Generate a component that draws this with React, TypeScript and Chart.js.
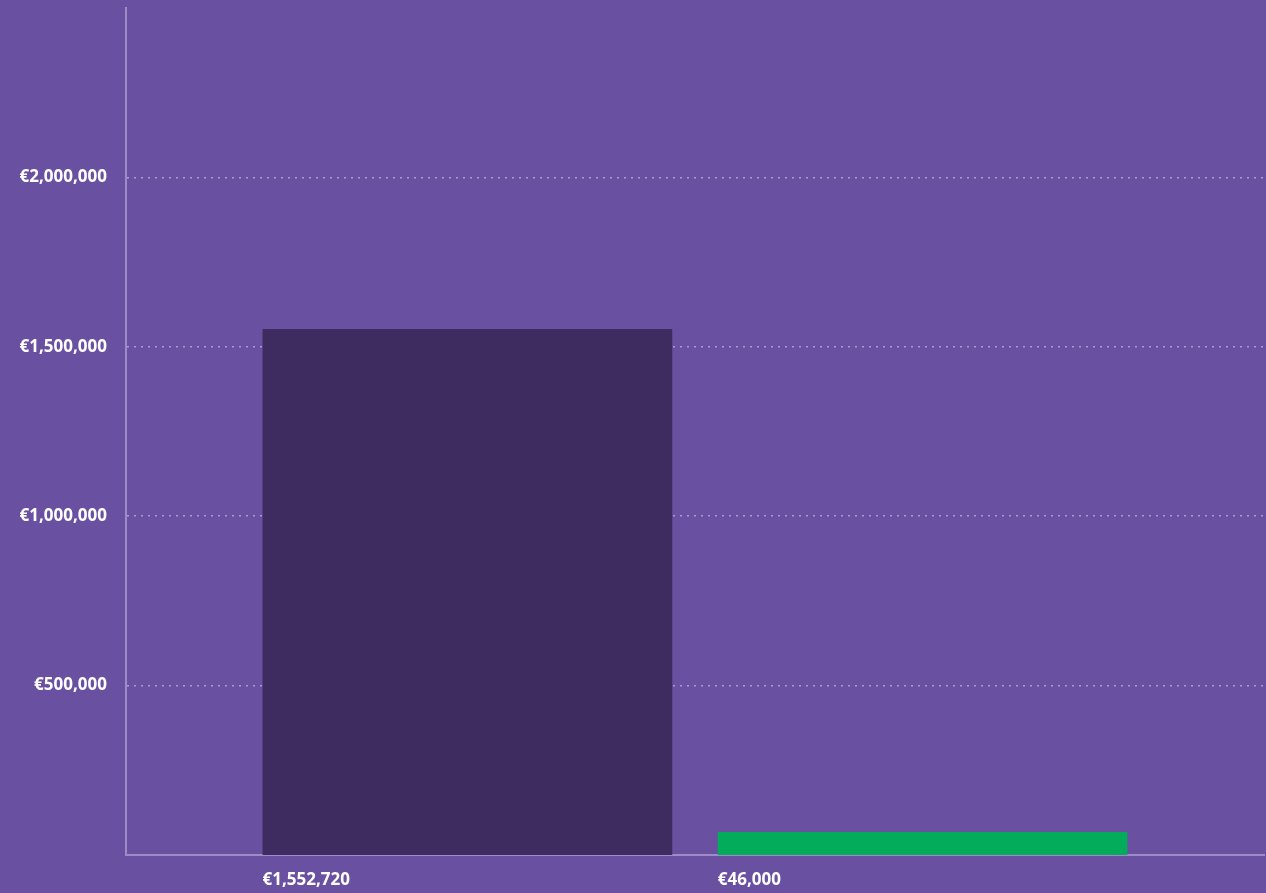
import React, { useEffect, useRef } from "react";
import { Chart, registerables } from "chart.js";

Chart.register(...registerables);

const categories = ["Total"];
const seriesLabels = ["Series A", "Series B"];
const seriesValues = [1552720, 46000];
const valueLabels = ["€1,552,720", "€46,000"];
const yTicks = [500000, 1000000, 1500000, 2000000];
const yMax = 2500000;
const seriesColors = ["#3e2c60", "#03ac5b"];

const BG = "#6950a1";
const AXIS = "#9d8cc6";
const GRID = "#a99bd2";
const FONT = "'Open Sans', sans-serif";

const fmt = (v: number) => "€" + v.toLocaleString("en-US");

const barLabelPlugin = {
  id: "barLabels",
  afterDraw(chart: any) {
    const ctx = chart.ctx;
    const bottom = chart.chartArea.bottom;
    ctx.save();
    ctx.fillStyle = "#ffffff";
    ctx.font = `bold 17px ${FONT}`;
    ctx.textAlign = "left";
    ctx.textBaseline = "middle";
    chart.data.datasets.forEach((ds: any, i: number) => {
      const meta = chart.getDatasetMeta(i);
      meta.data.forEach((bar: any) => {
        const left = bar.x - bar.width / 2;
        ctx.fillText(valueLabels[i], left, bottom + 25);
      });
    });
    ctx.restore();
  },
};

export default function App() {
  const ref = useRef<HTMLCanvasElement>(null);
  useEffect(() => {
    document.body.style.margin = "0";
    document.body.style.background = BG;
    const chart = new Chart(ref.current!, {
      type: "bar",
      data: {
        labels: categories,
        datasets: seriesValues.map((v, i) => ({
          label: seriesLabels[i],
          data: [v],
          backgroundColor: seriesColors[i],
          borderWidth: 0,
          minBarLength: 23,
        })),
      },
      options: {
        animation: false,
        responsive: false,
        layout: { padding: { top: 8, right: 2, bottom: 38, left: 0 } },
        plugins: { legend: { display: false }, tooltip: { enabled: false } },
        scales: {
          x: {
            grid: { display: false, drawTicks: false },
            border: { color: AXIS, width: 2 },
            ticks: { display: false },
          },
          y: {
            min: 0,
            max: yMax,
            afterBuildTicks: (axis: any) => {
              axis.ticks = yTicks.map((v) => ({ value: v }));
            },
            afterFit: (axis: any) => {
              axis.width = 126;
              axis.paddingTop = 0;
              axis.paddingBottom = 0;
            },
            ticks: {
              color: "#ffffff",
              font: { family: FONT, size: 17, weight: "bold" },
              padding: 19,
              callback: (v: any) => fmt(Number(v)),
            },
            grid: {
              color: GRID,
              drawTicks: false,
              lineWidth: 1.5,
            },
            border: { color: AXIS, width: 2, dash: [2, 5] } as any,
          },
        },
      },
      plugins: [barLabelPlugin],
    });
    return () => chart.destroy();
  }, []);
  return (
    <div style={{ width: 1266, height: 893, background: BG }}>
      <canvas ref={ref} width={1266} height={893} />
    </div>
  );
}
